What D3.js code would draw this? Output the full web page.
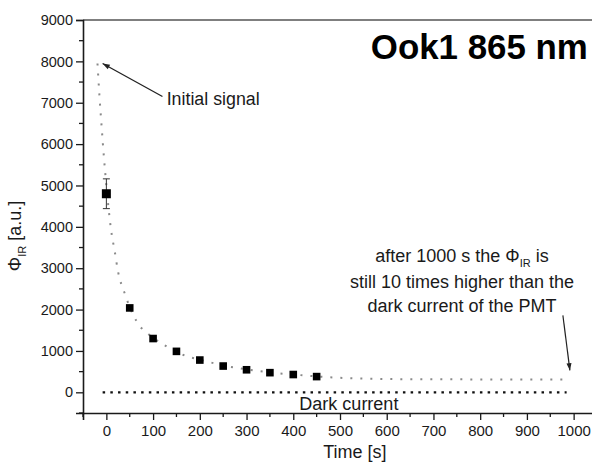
<!DOCTYPE html>
<html><head>
<meta charset="utf-8">
<title>Ook1 865 nm decay</title>
<script src="https://d3js.org/d3.v7.min.js"></script>
<style>
  body { margin: 0; background: #fff; }
  svg { display: block; font-family: "Liberation Sans", Arial, sans-serif; }
</style>
</head>
<body>
<svg id="chart" width="592" height="464"></svg>
<script>
// measured points (squares)
let timeS = [0, 50, 100, 150, 200, 250, 300, 350, 400, 450];
let signal = [4800, 2040, 1300, 990, 780, 635, 545, 475, 430, 380];
let errBar = [360, 0, 0, 0, 0, 0, 0, 0, 0, 0];

// fitted decay curve (grey dotted)
let fitX = [-19, -15, -10, -5, 0, 5, 10, 18, 25, 39, 57, 71, 91, 130, 171, 200, 250, 300, 350, 400, 450, 500, 600, 700, 800, 900, 985];
let fitY = [7950, 7200, 6400, 5650, 5000, 4420, 3930, 3400, 2920, 2400, 1880, 1610, 1400, 1100, 875, 790, 650, 555, 480, 430, 385, 350, 322, 315, 312, 310, 310];

// dark current level
let darkX = [-8, 985];
let darkY = [0, 0];

let xTicks = [0, 100, 200, 300, 400, 500, 600, 700, 800, 900, 1000];
let yTicks = [0, 1000, 2000, 3000, 4000, 5000, 6000, 7000, 8000, 9000];

let svg = d3.select("#chart");
let plotLeft = 83, plotRight = 597, plotTop = 20, plotBottom = 413;

let x = d3.scaleLinear().domain([-50, 1050]).range([plotLeft, plotRight]);
let y = d3.scaleLinear().domain([-500, 9000]).range([plotBottom, plotTop]);

let ink = "#1a1a1a";

// frame (top edge, right edge is off the picture)
svg.append("line")
    .attr("x1", plotLeft).attr("x2", plotRight)
    .attr("y1", plotTop).attr("y2", plotTop)
    .attr("stroke", "#555").attr("stroke-width", 1.5);

// y axis
let yAxis = d3.axisLeft(y).tickValues(yTicks).tickSize(7).tickPadding(3).tickFormat(d3.format("d"));
let gy = svg.append("g").attr("transform", `translate(${plotLeft},0)`).call(yAxis);
gy.selectAll(".tick line").attr("stroke", ink).attr("stroke-width", 1.3);
gy.select(".domain").attr("stroke", ink).attr("stroke-width", 1.6);
gy.selectAll("text").attr("font-size", 14.5).attr("fill", ink).attr("font-family", "Liberation Sans, Arial, sans-serif");
let yMinor = d3.range(-500, 9000, 1000);
gy.selectAll(".minor").data(yMinor).enter().append("line")
    .attr("x1", -4).attr("x2", 0)
    .attr("y1", d => y(d)).attr("y2", d => y(d))
    .attr("stroke", ink).attr("stroke-width", 1.3);

// x axis
let xAxis = d3.axisBottom(x).tickValues(xTicks).tickSize(7).tickPadding(5).tickFormat(d3.format("d"));
let gx = svg.append("g").attr("transform", `translate(0,${plotBottom})`).call(xAxis);
gx.selectAll(".tick line").attr("stroke", ink).attr("stroke-width", 1.3);
gx.select(".domain").attr("stroke", ink).attr("stroke-width", 1.6);
gx.selectAll("text").attr("font-size", 15).attr("fill", ink).attr("font-family", "Liberation Sans, Arial, sans-serif");
let xMinor = d3.range(-50, 1050, 100);
gx.selectAll(".minor").data(xMinor).enter().append("line")
    .attr("x1", d => x(d)).attr("x2", d => x(d))
    .attr("y1", 0).attr("y2", 4)
    .attr("stroke", ink).attr("stroke-width", 1.3);

// fitted curve
let fitLine = d3.line().x(d => x(d[0])).y(d => y(d[1])).curve(d3.curveMonotoneX);
svg.append("path")
    .attr("d", fitLine(d3.zip(fitX, fitY)))
    .attr("fill", "none")
    .attr("stroke", "#8a8a8a")
    .attr("stroke-width", 2)
    .attr("stroke-dasharray", "2,8");

// dark current line
svg.append("path")
    .attr("d", d3.line().x(d => x(d[0])).y(d => y(d[1]))(d3.zip(darkX, darkY)))
    .attr("stroke", "#111")
    .attr("stroke-width", 2.2)
    .attr("stroke-dasharray", "2.5,5.2");

// error bars
let pts = d3.zip(timeS, signal, errBar);
svg.selectAll(".err").data(pts.filter(d => d[2] > 0)).enter().append("g").each(function(d) {
  let g = d3.select(this);
  g.append("line").attr("x1", x(d[0])).attr("x2", x(d[0]))
      .attr("y1", y(d[1] - d[2])).attr("y2", y(d[1] + d[2]))
      .attr("stroke", "#333").attr("stroke-width", 1);
  [d[1] - d[2], d[1] + d[2]].forEach(v => {
    g.append("line").attr("x1", x(d[0]) - 3.5).attr("x2", x(d[0]) + 3.5)
        .attr("y1", y(v)).attr("y2", y(v))
        .attr("stroke", "#333").attr("stroke-width", 1);
  });
});

// squares
svg.selectAll(".pt").data(pts).enter().append("rect")
    .attr("x", (d, i) => x(d[0]) - (i == 0 ? 4.5 : 3.8))
    .attr("y", (d, i) => y(d[1]) - (i == 0 ? 4.5 : 3.8))
    .attr("width", (d, i) => i == 0 ? 9 : 7.6)
    .attr("height", (d, i) => i == 0 ? 9 : 7.6)
    .attr("fill", "#000");

// arrow head marker
svg.append("defs").append("marker")
    .attr("id", "head").attr("viewBox", "0 0 10 10")
    .attr("refX", 10).attr("refY", 5)
    .attr("markerWidth", 9).attr("markerHeight", 6)
    .attr("orient", "auto")
  .append("path").attr("d", "M0,1.5 L10,5 L0,8.5 Z").attr("fill", "#222");

function arrow(x1, y1, x2, y2) {
  svg.append("line")
      .attr("x1", x(x1)).attr("y1", y(y1))
      .attr("x2", x(x2)).attr("y2", y(y2))
      .attr("stroke", "#222").attr("stroke-width", 1.2)
      .attr("marker-end", "url(#head)");
}

// Initial signal annotation
arrow(120, 7150, -8, 7950);
svg.append("text")
    .attr("x", x(129)).attr("y", y(6950))
    .attr("font-size", 18).attr("fill", ink)
    .attr("textLength", 93).attr("lengthAdjust", "spacingAndGlyphs")
    .text("Initial signal");

// title
svg.append("text")
    .attr("x", x(566)).attr("y", y(8050))
    .attr("font-size", 35).attr("font-weight", "bold").attr("fill", "#000")
    .attr("textLength", 217).attr("lengthAdjust", "spacingAndGlyphs")
    .text("Ook1 865 nm");

// right annotation
let noteLines = [3160, 2530, 1930];
let t1 = svg.append("text").attr("x", x(761)).attr("y", y(noteLines[0]))
    .attr("text-anchor", "middle").attr("font-size", 18).attr("fill", ink);
t1.append("tspan").text("after 1000 s the \u03A6");
t1.append("tspan").attr("font-size", 11).attr("dy", 5).text("IR");
t1.append("tspan").attr("dy", -5).text(" is");
svg.append("text").attr("x", x(761)).attr("y", y(noteLines[1]))
    .attr("text-anchor", "middle").attr("font-size", 18).attr("fill", ink)
    .text("still 10 times higher than the");
svg.append("text").attr("x", x(761)).attr("y", y(noteLines[2]))
    .attr("text-anchor", "middle").attr("font-size", 18).attr("fill", ink)
    .text("dark current of the PMT");
arrow(977, 1860, 992, 530);

// dark current label
svg.append("text")
    .attr("x", x(519)).attr("y", y(-420))
    .attr("text-anchor", "middle").attr("font-size", 18).attr("fill", ink)
    .text("Dark current");

// axis titles
svg.append("text")
    .attr("x", x(532)).attr("y", 458)
    .attr("text-anchor", "middle").attr("font-size", 18).attr("fill", ink)
    .text("Time [s]");

let yl = svg.append("text")
    .attr("transform", `translate(21,${236}) rotate(-90)`)
    .attr("text-anchor", "middle").attr("font-size", 18).attr("fill", ink);
yl.append("tspan").text("\u03A6");
yl.append("tspan").attr("font-size", 11).attr("dy", 5).text("IR");
yl.append("tspan").attr("dy", -5).text(" [a.u.]");
</script>
</body>
</html>
